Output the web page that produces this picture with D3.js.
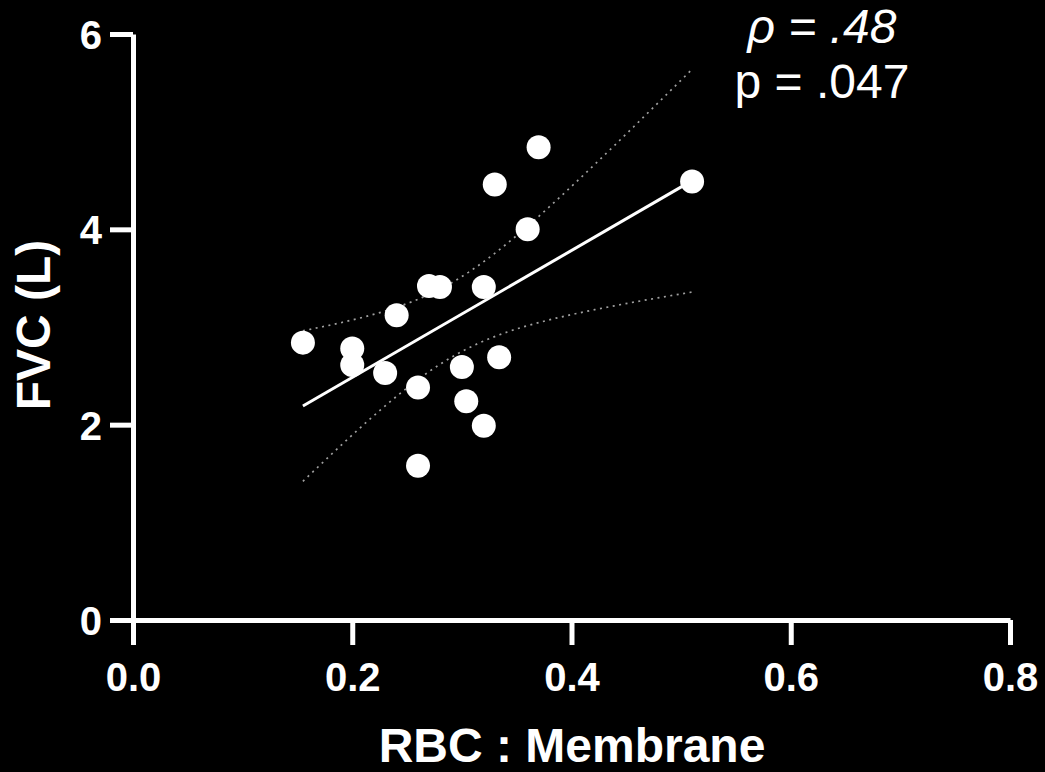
<!DOCTYPE html>
<html>
<head>
<meta charset="utf-8">
<script src="https://cdn.jsdelivr.net/npm/d3@7"></script>
<style>
  html, body { margin: 0; padding: 0; background: #000; }
  svg { display: block; }
  text { font-family: "Liberation Sans", Arial, sans-serif; fill: #fff; }
</style>
</head>
<body>
<svg id="chart"></svg>
<script>
// RBC : Membrane ratio vs FVC (L), one entry per subject
const rbcMembrane = [0.370, 0.330, 0.510, 0.360, 0.270, 0.280, 0.320, 0.2405, 0.155,
                     0.200, 0.200, 0.230, 0.300, 0.334, 0.260, 0.304, 0.320, 0.260];
const fvc = [4.84, 4.46, 4.49, 4.00, 3.42, 3.41, 3.41, 3.12, 2.84,
             2.78, 2.61, 2.53, 2.59, 2.69, 2.38, 2.24, 1.99, 1.58];
const xTicks = [0, 0.2, 0.4, 0.6, 0.8];
const yTicks = [0, 2, 4, 6];
const statLines = [
  { text: "\u03C1 = .48", italic: true },
  { text: "p = .047", italic: false }
];

const width = 1045, height = 772;
const svg = d3.select("#chart").attr("width", width).attr("height", height);

const x = d3.scaleLinear().domain([0, 0.8]).range([133, 1010]);
const y = d3.scaleLinear().domain([0, 6]).range([620, 34]);

// linear fit + 95% confidence band
const n = fvc.length;
const mx = d3.mean(rbcMembrane), my = d3.mean(fvc);
let sxx = 0, sxy = 0;
rbcMembrane.forEach((v, i) => { sxx += (v - mx) ** 2; sxy += (v - mx) * (fvc[i] - my); });
const slope = sxy / sxx;
const icept = my - slope * mx;
let sse = 0;
rbcMembrane.forEach((v, i) => { sse += (fvc[i] - (icept + slope * v)) ** 2; });
const s = Math.sqrt(sse / (n - 2));
const tcrit = 2.12; // t(0.975, 16)
const [x0, x1] = d3.extent(rbcMembrane);
const band = d3.range(0, 41).map(k => {
  const xv = x0 + (x1 - x0) * k / 40;
  const fit = icept + slope * xv;
  const half = tcrit * s * Math.sqrt(1 / n + (xv - mx) ** 2 / sxx);
  return { xv, fit, lo: fit - half, hi: fit + half };
});

const line = key => d3.line().x(d => x(d.xv)).y(d => y(d[key]));

const plot = svg.append("g");
["lo", "hi"].forEach(k => {
  plot.append("path").datum(band)
    .attr("d", line(k))
    .attr("fill", "none")
    .attr("stroke", "#a0a0a0")
    .attr("stroke-width", 1.7)
    .attr("stroke-dasharray", "2,4.5");
});
plot.append("path").datum([band[0], band[band.length - 1]])
  .attr("d", line("fit"))
  .attr("fill", "none")
  .attr("stroke", "#fff")
  .attr("stroke-width", 3);

plot.selectAll("circle.pt").data(rbcMembrane).enter().append("circle")
  .attr("class", "pt")
  .attr("cx", d => x(d))
  .attr("cy", (d, i) => y(fvc[i]))
  .attr("r", 12)
  .attr("fill", "#fff");

// axes
const xAxis = svg.append("g")
  .attr("transform", "translate(0," + y(0) + ")")
  .call(d3.axisBottom(x).tickValues(xTicks).tickFormat(d3.format(".1f"))
    .tickSize(25).tickSizeOuter(0).tickPadding(18));
const yAxis = svg.append("g")
  .attr("transform", "translate(" + x(0) + ",0)")
  .call(d3.axisLeft(y).tickValues(yTicks).tickFormat(d3.format("d"))
    .tickSize(23).tickSizeOuter(0).tickPadding(8));

[xAxis, yAxis].forEach(ax => {
  ax.selectAll(".domain, .tick line").attr("stroke", "#fff").attr("stroke-width", 5);
  ax.selectAll(".tick text")
    .attr("fill", "#fff")
    .style("font-family", "'Liberation Sans', Arial, sans-serif")
    .style("font-weight", "bold")
    .style("font-size", "40px");
});
yAxis.selectAll(".tick text").attr("dy", "0.36em");

// axis titles
svg.append("text")
  .attr("x", 572).attr("y", 762)
  .attr("text-anchor", "middle")
  .style("font-weight", "bold").style("font-size", "48px")
  .text("RBC : Membrane");
svg.append("text")
  .attr("transform", "translate(50,325) rotate(-90)")
  .attr("text-anchor", "middle")
  .style("font-weight", "bold").style("font-size", "48px")
  .text("FVC (L)");

// stats annotation
svg.selectAll("text.stat").data(statLines).enter().append("text")
  .attr("class", "stat")
  .attr("x", 822)
  .attr("y", (d, i) => 43 + i * 55)
  .attr("text-anchor", "middle")
  .style("font-size", "48px")
  .style("font-style", d => d.italic ? "italic" : "normal")
  .text(d => d.text);
</script>
</body>
</html>
